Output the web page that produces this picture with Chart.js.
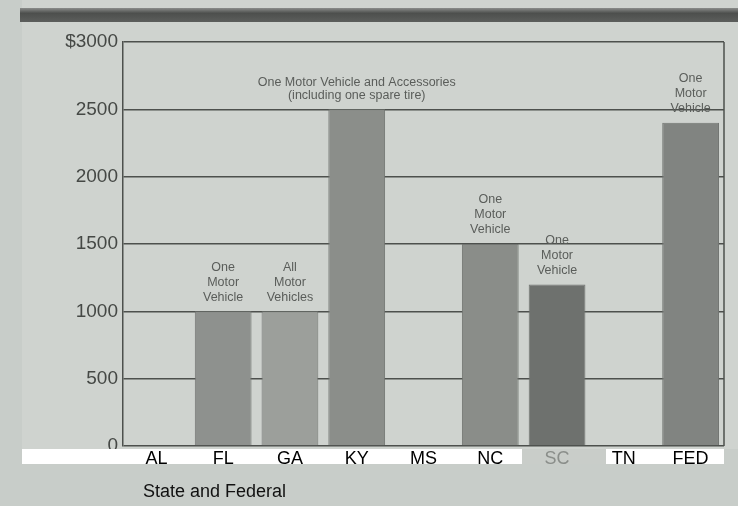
<!DOCTYPE html>
<html>
<head>
<meta charset="utf-8">
<script src="https://cdn.jsdelivr.net/npm/chart.js@4/dist/chart.umd.min.js"></script>
<style>
  html, body { margin: 0; padding: 0; background: #c8cdc9; }
  #wrap { width: 738px; height: 506px; position: relative; }
</style>
</head>
<body>
<div id="wrap"><canvas id="c" width="738" height="506"></canvas></div>
<script>
// ---- data ----
const categories = ["AL", "FL", "GA", "KY", "MS", "NC", "SC", "TN", "FED"];
const exemptionValues = [null, 1000, 1000, 2500, null, 1500, 1200, null, 2400];
const barColors = ["#8e918e", "#8e918e", "#9c9f9b", "#8b8e8a", "#8e918e", "#8a8d89", "#6e716e", "#8e918e", "#818481"];
const barNotes = [
  [],
  ["One", "Motor", "Vehicle"],
  ["All", "Motor", "Vehicles"],
  ["One Motor Vehicle and Accessories", "(including one spare tire)"],
  [],
  ["One", "Motor", "Vehicle"],
  ["One", "Motor", "Vehicle"],
  [],
  ["One", "Motor", "Vehicle"]
];
const yTicks = [0, 500, 1000, 1500, 2000, 2500, 3000];
const xAxisTitle = "State and Federal";

const FONT = "Arial, 'Liberation Sans', sans-serif";

const decorPlugin = {
  id: "decor",
  beforeDraw(chart) {
    const ctx = chart.ctx;
    const a = chart.chartArea;
    ctx.save();
    ctx.fillStyle = "#c8cdc9";
    ctx.fillRect(0, 0, 738, 506);
    ctx.fillStyle = "#cfd3cf";
    ctx.fillRect(22, 0, 716, a.bottom + 3);
    const g = ctx.createLinearGradient(0, 8, 0, 23);
    g.addColorStop(0, "#8a8c8a");
    g.addColorStop(0.35, "#4d4f4d");
    g.addColorStop(1, "#5e605e");
    ctx.fillStyle = g;
    ctx.fillRect(20, 8, 718, 14);
    ctx.restore();
  },
  afterDatasetsDraw(chart) {
    const ctx = chart.ctx;
    const a = chart.chartArea;
    ctx.save();
    // right border
    ctx.strokeStyle = "#4d504d";
    ctx.lineWidth = 1.5;
    ctx.beginPath();
    ctx.moveTo(a.right, a.top);
    ctx.lineTo(a.right, a.bottom);
    ctx.stroke();
    // annotations above bars
    const meta = chart.getDatasetMeta(0);
    ctx.fillStyle = "#5a5d5a";
    ctx.font = "12.5px " + FONT;
    ctx.textAlign = "center";
    ctx.textBaseline = "middle";
    barNotes.forEach((lines, i) => {
      if (!lines.length || exemptionValues[i] == null) return;
      const el = meta.data[i];
      const n = lines.length;
      const step = n === 2 ? 13 : 15;
      lines.forEach((t, k) => {
        ctx.fillText(t, el.x, el.y - 14 - (n - 1 - k) * step);
      });
    });
    // pasted label strips
    const y0 = a.bottom + 3;
    ctx.fillStyle = "#ffffff";
    ctx.fillRect(22, y0, 500, 15);
    ctx.fillRect(606, y0, a.right - 606, 15);
    ctx.fillStyle = "#c9cdc9";
    ctx.fillRect(522, y0, 84, 15);
    // axis title
    ctx.fillStyle = "#111111";
    ctx.font = "18px " + FONT;
    ctx.textAlign = "left";
    ctx.textBaseline = "middle";
    ctx.fillText(xAxisTitle, 143, 492);
    ctx.restore();
  }
};

new Chart(document.getElementById("c"), {
  type: "bar",
  data: {
    labels: categories,
    datasets: [{
      data: exemptionValues,
      backgroundColor: barColors,
      borderColor: "#727572",
      borderWidth: 1,
      borderSkipped: "bottom",
      barPercentage: 0.85,
      categoryPercentage: 1.0
    }]
  },
  options: {
    responsive: false,
    animation: false,
    devicePixelRatio: 1,
    layout: { padding: { left: 0, right: 14, top: 42, bottom: 0 } },
    plugins: { legend: { display: false }, tooltip: { enabled: false } },
    scales: {
      x: {
        type: "category",
        offset: true,
        grid: { display: false, drawTicks: false },
        border: { display: false },
        ticks: {
          z: 1,
          padding: 2,
          color: (c) => (c.tick && c.tick.label === "SC") ? "#8a8e8a" : "#000000",
          font: { family: FONT, size: 18 },
          maxRotation: 0,
          autoSkip: false
        },
        afterFit(s) { s.height = 60; }
      },
      y: {
        min: 0,
        max: 3000,
        afterBuildTicks(s) { s.ticks = yTicks.map(v => ({ value: v })); },
        grid: { color: "#4d504d", lineWidth: 1.5, drawTicks: false },
        border: { display: true, color: "#4d504d", width: 1.5 },
        ticks: {
          padding: 5,
          color: "#454845",
          font: { family: FONT, size: 19 },
          callback: (v) => v === 3000 ? "$3000" : String(v)
        },
        afterFit(s) { s.width = 123; }
      }
    }
  },
  plugins: [decorPlugin]
});
</script>
</body>
</html>
